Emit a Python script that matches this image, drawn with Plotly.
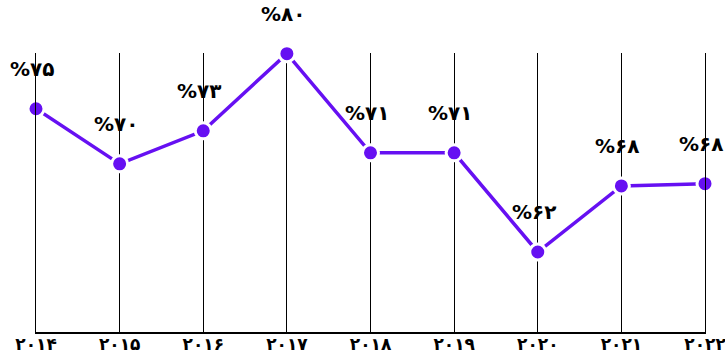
import plotly.graph_objects as go

years = [2014, 2015, 2016, 2017, 2018, 2019, 2020, 2021, 2022]
year_labels = ["۲۰۱۴", "۲۰۱۵", "۲۰۱۶", "۲۰۱۷", "۲۰۱۸", "۲۰۱۹", "۲۰۲۰", "۲۰۲۱", "۲۰۲۲"]
values = [75, 70, 73, 80, 71, 71, 62, 68, 68.2]
value_labels = ["%۷۵", "%۷۰", "%۷۳", "%۸۰", "%۷۱", "%۷۱", "%۶۲", "%۶۸", "%۶۸"]

PURPLE = "#6610f2"
FONT = "DejaVu Sans"

fig = go.Figure()
fig.add_trace(go.Scatter(
    x=years, y=values, mode="lines+markers",
    line=dict(color=PURPLE, width=3.5),
    marker=dict(color=PURPLE, size=16, line=dict(color="white", width=3)),
    cliponaxis=False, hoverinfo="skip", showlegend=False,
))

for x, y, t in zip(years, values, value_labels):
    fig.add_annotation(x=x, y=y, text="<b>" + t + "</b>", showarrow=False,
                       yshift=40, xshift=-4,
                       font=dict(family=FONT, size=20, color="black"))

fig.update_layout(
    width=725, height=360,
    margin=dict(l=36, r=20, t=53, b=28),
    paper_bgcolor="white", plot_bgcolor="white",
    font=dict(family=FONT),
    xaxis=dict(
        range=[2014, 2022], tickmode="array", tickvals=years,
        ticktext=["<b>" + s + "</b>" for s in year_labels],
        tickfont=dict(family=FONT, size=17, color="black"),
        ticklabeloverflow="allow", ticklabelstandoff=-4,
        showgrid=True, gridcolor="black", gridwidth=1,
        showline=True, linecolor="black", linewidth=1.5,
        zeroline=False, ticks="", automargin=False, fixedrange=True,
    ),
    yaxis=dict(
        range=[54.74, 80.06], showgrid=False, zeroline=False,
        showticklabels=False, showline=True, mirror=True,
        linecolor="black", linewidth=1, ticks="", automargin=False,
        fixedrange=True,
    ),
)

fig.write_html("out.html", config={"displayModeBar": False},
               post_script="document.body.style.margin='0';")
